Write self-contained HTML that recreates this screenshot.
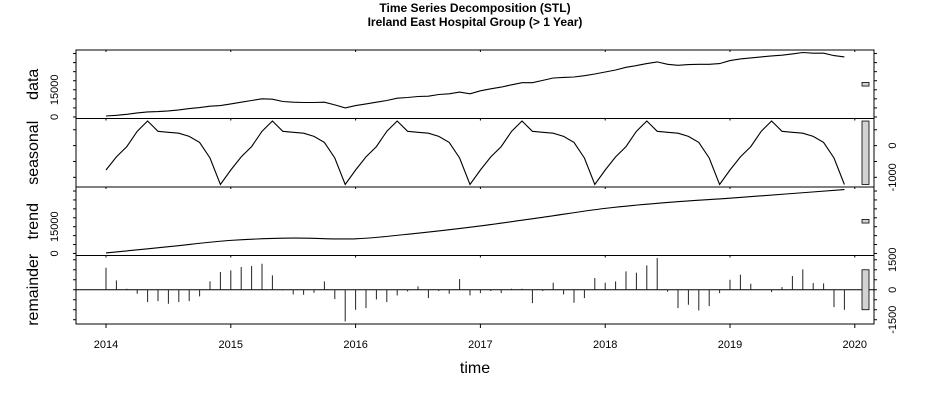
<!DOCTYPE html>
<html><head><meta charset="utf-8"><style>
html,body{margin:0;padding:0;background:#fff;}
svg{display:block;font-family:"Liberation Sans",Arial,sans-serif;}
</style></head><body>
<svg id="chart" width="950" height="400" viewBox="0 0 950 400" xmlns="http://www.w3.org/2000/svg">
<text x="475" y="12" text-anchor="middle" font-size="12" font-weight="bold">Time Series Decomposition (STL)</text>
<text x="475" y="26" text-anchor="middle" font-size="12" font-weight="bold">Ireland East Hospital Group (&gt; 1 Year)</text>
<text x="475" y="373" text-anchor="middle" font-size="16">time</text>
</svg>
<script>
const years = [2014,2015,2016,2017,2018,2019,2020];
const dataSeries = [556,926,1482,2222,2778,2963,3333,3889,4630,5185,5926,6296,7222,8148,9074,10000,9815,8519,8148,7963,7963,8148,6667,5000,6296,7222,8148,9074,10370,10741,11296,11481,12407,12778,13704,12778,14444,15556,16481,17778,18889,18889,20185,21481,21852,22037,22778,23704,24815,25926,27407,28333,29444,30370,29074,28519,28889,29074,29074,29444,31111,32037,32593,33148,33704,34074,34815,35556,35185,35185,33889,33148];
const seasonalMonthly = [-770,-355,-30,450,775,450,420,390,290,100,-390,-1225];
const trendTimes = [2014,2014.5,2015,2015.5,2016,2016.5,2017,2017.5,2018,2018.5,2019,2019.5,2019.917];
const trendValues = [280,3780,7330,8610,8220,11390,15440,20280,25280,28610,31000,33610,35830];
const remainderValues = [1102,468,50,-200,-618,-568,-701,-618,-568,-334,418,885,969,1136,1186,1303,718,-33,-234,-251,-150,418,-468,-1587,-1002,-919,-484,-618,-284,-84,167,-418,-67,-200,534,-284,-167,-67,-167,50,50,-668,-67,351,-234,-651,-418,585,351,418,919,852,1219,1587,-100,-919,-752,-1035,-818,-167,501,752,301,0,-117,134,685,1019,334,317,-868,-1002];
const startYear = 2014;

const NS = "http://www.w3.org/2000/svg";
const svg = document.getElementById('chart');
const X0 = 76, X1 = 874;
const xScale = t => 106 + (t - 2014) * 124.8;
function mk(tag, attrs, parent){ const e = document.createElementNS(NS, tag); for (const k in attrs) e.setAttribute(k, attrs[k]); (parent||svg).appendChild(e); return e; }

const timeOf = i => startYear + i/12;
const seasonalSeries = dataSeries.map((_, i) => seasonalMonthly[i % 12]);

const panels = [
  {name:'data', top:50, vals:dataSeries, kind:'line', ticks:5000, labels:[0,15000], side:'left'},
  {name:'seasonal', top:118.5, vals:seasonalSeries, kind:'line', ticks:500, labels:[-1000,0], side:'right'},
  {name:'trend', top:187, vals:trendValues, times:trendTimes, kind:'line', ticks:5000, labels:[0,15000], side:'left'},
  {name:'remainder', top:255.5, vals:remainderValues, kind:'bars', ticks:500, labels:[-1500,0,1500], side:'right'}
];
const H = 68.5;
panels.forEach(p => {
  const mn = Math.min(...p.vals), mx = Math.max(...p.vals);
  p.range = mx - mn;
  const span = p.range * 1.08, lo = mn - p.range*0.04;
  p.k = H / span;
  p.y = v => p.top + H - (v - lo) * p.k;
  p.lo = lo; p.hi = lo + span;
});
const barUnits = Math.min(...panels.map(p => p.range));

panels.forEach(p => {
  const g = mk('g', {});
  
  
  const r = mk('rect', {x:X0, y:p.top, width:X1-X0, height:H, fill:'none', stroke:'#000', 'stroke-width':1}, g);
  
  
  const first = Math.ceil(p.lo / p.ticks) * p.ticks;
  for (let v = first; v <= p.hi; v += p.ticks) {
    const yy = p.y(v);
    const t1 = mk('line', {x1:X0-3, x2:X0, y1:yy, y2:yy, stroke:'#000'}, g);
    
    
    const t2 = mk('line', {x1:X1, x2:X1+3, y1:yy, y2:yy, stroke:'#000'}, g);
    
    
  }
  p.labels.forEach(v => {
    const yy = p.y(v);
    const lx = p.side === 'left' ? X0 - 18 : X1 + 22;
    const tx = mk('text', {x:lx, y:yy, 'font-size':11, 'text-anchor':'middle', transform:`rotate(-90 ${lx} ${yy})`}, g);
    
    
    tx.textContent = String(v);
  });
  const cy = p.top + H/2;
  const tt = mk('text', {x:38, y:cy, 'font-size':16, 'text-anchor':'middle', transform:`rotate(-90 38 ${cy})`}, g);
  
  
  tt.textContent = p.name;
  years.forEach(yr => {
    const xx = xScale(yr);
    const yt = mk('line', {x1:xx, x2:xx, y1:p.top, y2:p.top+2, stroke:'#000'}, g);
    
    
  });
  if (p.kind === 'line') {
    let d;
    if (p.times) {
      const P = p.vals.map((v,i)=>[xScale(p.times[i]), p.y(v)]);
      d = 'M' + P[0][0] + ',' + P[0][1];
      for (let i=0;i<P.length-1;i++){
        const p0=P[Math.max(0,i-1)],p1=P[i],p2=P[i+1],p3=P[Math.min(P.length-1,i+2)];
        const c1=[p1[0]+(p2[0]-p0[0])/6,p1[1]+(p2[1]-p0[1])/6];
        const c2=[p2[0]-(p3[0]-p1[0])/6,p2[1]-(p3[1]-p1[1])/6];
        d+=` C${c1[0]},${c1[1]} ${c2[0]},${c2[1]} ${p2[0]},${p2[1]}`;
      }
    } else {
      const pts = p.vals.map((v, i) => xScale(timeOf(i)).toFixed(1) + ',' + p.y(v).toFixed(1));
      d = 'M' + pts.join(' L');
    }
    const ln = mk('path', {d:d, fill:'none', stroke:'#000', 'stroke-width':1.1}, g);
    
    
  } else {
    const z = mk('line', {x1:X0, x2:X1, y1:p.y(0), y2:p.y(0), stroke:'#000'}, g);
    
    
    p.vals.forEach((v, i) => {
      const xx = xScale(timeOf(i));
      const b = mk('line', {x1:xx, x2:xx, y1:p.y(0), y2:p.y(v), stroke:'#222', 'stroke-width':1}, g);
      
      
    });
  }
  const mid = (p.lo + p.hi)/2;
  const bh = barUnits * p.k;
  const rb = mk('rect', {x:862, y:p.y(mid)-bh/2, width:7, height:bh, fill:'#d3d3d3', stroke:'#000', 'stroke-width':0.8}, g);
  
  
});

const bottom = 255.5 + H;
years.forEach(yr => {
  const xx = xScale(yr);
  const t = mk('line', {x1:xx, x2:xx, y1:bottom, y2:bottom+4, stroke:'#000'});
  
  
  const l = mk('text', {x:xx, y:bottom+24, 'font-size':11, 'text-anchor':'middle'});
  
  
  l.textContent = String(yr);
});
</script>
</body></html>
